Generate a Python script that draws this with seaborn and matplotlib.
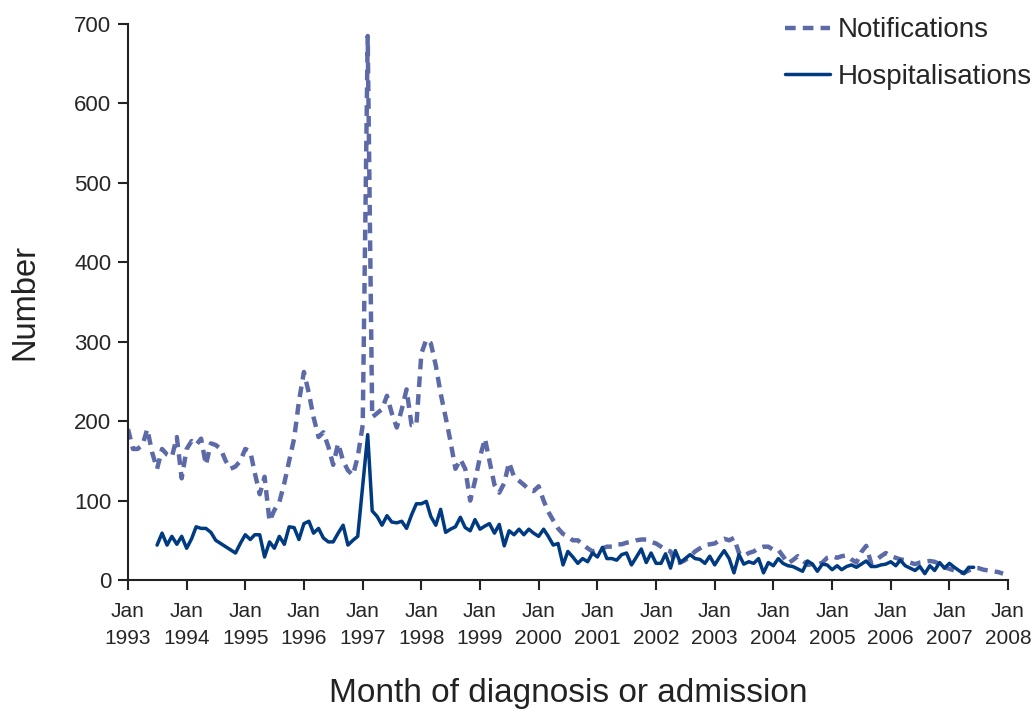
import pandas as pd
import numpy as np
import matplotlib
matplotlib.use('Agg')
import matplotlib.pyplot as plt
import seaborn as sns

# monthly counts, Jan 1993 - Dec 2007
notifications = [
    190, 165, 165, 170, 190, 160, 140, 165, 158, 155, 180, 128,   # 1993
    165, 175, 170, 178, 145, 172, 170, 165, 150, 140, 143, 150,   # 1994
    165, 162, 135, 108, 130, 74, 88, 98, 122, 150, 178, 225,      # 1995
    262, 235, 205, 180, 186, 168, 145, 172, 150, 138, 132, 155,   # 1996
    195, 685, 205, 210, 215, 232, 210, 192, 215, 240, 195, 195,   # 1997
    285, 303, 298, 270, 235, 205, 175, 140, 152, 140, 100, 125,   # 1998
    155, 178, 150, 120, 110, 122, 148, 130, 125, 120, 114, 112,   # 1999
    118, 100, 86, 75, 65, 58, 55, 50, 50, 45, 40, 36,             # 2000
    38, 40, 42, 42, 45, 45, 47, 48, 50, 51, 51, 48,               # 2001
    46, 42, 38, 36, 21, 22, 25, 30, 36, 40, 44, 45,               # 2002
    46, 50, 52, 50, 53, 34, 30, 34, 36, 40, 42, 42,               # 2003
    38, 38, 30, 21, 25, 30, 25, 19, 20, 19, 22, 28,               # 2004
    30, 28, 30, 31, 26, 22, 35, 43, 21, 25, 30, 34,               # 2005
    30, 28, 26, 25, 22, 20, 22, 23, 24, 23, 20, 16,               # 2006
    14, 12, 10, 9, 12, 15, 15, 13, 12, 11, 10, 8,                 # 2007
]

# hospitalisations start Jul 1993 and end Jun 2007
hosp_start = '1993-07-01'
hospitalisations = [
    44, 59, 44, 55, 45, 55,                                       # 1993
    40, 52, 67, 65, 65, 60, 50, 46, 42, 38, 34, 46,               # 1994
    57, 51, 57, 57, 29, 48, 40, 55, 45, 67, 66, 51,               # 1995
    71, 74, 59, 65, 53, 48, 48, 59, 69, 44, 50, 55,               # 1996
    119, 183, 87, 80, 69, 81, 73, 72, 74, 65, 82, 96,             # 1997
    96, 99, 80, 69, 89, 60, 64, 67, 79, 66, 62, 76,               # 1998
    64, 68, 71, 59, 70, 43, 62, 57, 64, 57, 64, 59,               # 1999
    55, 64, 55, 44, 46, 19, 36, 29, 21, 27, 23, 34,               # 2000
    29, 41, 27, 27, 25, 32, 34, 19, 29, 39, 22, 34,               # 2001
    21, 21, 33, 15, 37, 22, 27, 32, 27, 26, 21, 30,               # 2002
    19, 29, 37, 27, 9, 32, 20, 23, 21, 27, 9, 22,                 # 2003
    18, 27, 21, 18, 17, 14, 11, 24, 20, 11, 20, 19,               # 2004
    13, 18, 13, 17, 19, 16, 20, 24, 17, 17, 19, 20,               # 2005
    23, 18, 25, 18, 15, 12, 17, 8, 18, 12, 22, 15,                # 2006
    21, 16, 12, 8, 16, 16,                                        # 2007
]

years = list(range(1993, 2009))
tick_labels = ['Jan\n%d' % y for y in years]

df_n = pd.DataFrame({'month': pd.date_range('1993-01-01', periods=len(notifications), freq='MS'),
                     'count': notifications})
df_h = pd.DataFrame({'month': pd.date_range(hosp_start, periods=len(hospitalisations), freq='MS'),
                     'count': hospitalisations})

sns.set_style('ticks')
plt.rcParams['font.family'] = ['Liberation Sans', 'DejaVu Sans']

fig = plt.figure(figsize=(10.34, 7.13), dpi=100)
ax = fig.add_axes([0.1238, 0.1865, 0.8511, 0.7798])

sns.lineplot(data=df_n, x='month', y='count', ax=ax, color='#5d6aa8', lw=3.2,
             linestyle=(0, (2.4, 1.6)), label='Notifications')
sns.lineplot(data=df_h, x='month', y='count', ax=ax, color='#003a80', lw=2.5,
             label='Hospitalisations')

ax.set_xlim(pd.Timestamp('1993-01-01'), pd.Timestamp('2008-01-01'))
ax.set_ylim(0, 700)
ax.set_yticks(range(0, 701, 100))
ax.set_xticks([pd.Timestamp('%d-01-01' % y) for y in years])
ax.set_xticklabels(tick_labels, fontsize=15, linespacing=1.55)
for t in ax.get_yticklabels():
    t.set_fontsize(16)

ax.tick_params(axis='both', direction='out', length=7, width=1.5, color='#222222', pad=5)
ax.tick_params(axis='x', pad=9)
sns.despine(ax=ax)
for s in ['left', 'bottom']:
    ax.spines[s].set_linewidth(1.5)
    ax.spines[s].set_color('#222222')

ax.set_xlabel('Month of diagnosis or admission', fontsize=24, labelpad=21, color='#222222')
ax.set_ylabel('Number', fontsize=23.5, labelpad=24, color='#222222')

ax.legend(loc='upper right', bbox_to_anchor=(1.056, 1.057), frameon=False, fontsize=20,
          handlelength=1.6, handletextpad=0.3, labelspacing=0.75)

plt.savefig('out.png', dpi=100)
